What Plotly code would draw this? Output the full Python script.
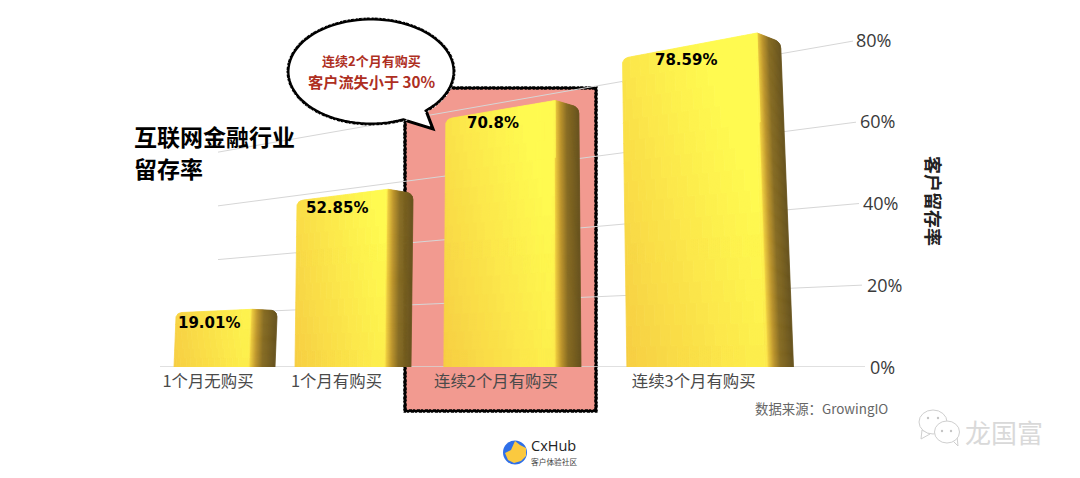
import math
import plotly.graph_objects as go

categories = ["1个月无购买", "1个月有购买", "连续2个月有购买", "连续3个月有购买"]
retention = [19.01, 52.85, 70.8, 78.59]
axis_ticks = [0, 20, 40, 60, 80]
axis_title = "客户留存率"
chart_title = ["互联网金融行业", "留存率"]
callout = ["连续2个月有购买", "客户流失小于 30%"]
source_note = "数据来源：GrowingIO"

W, H = 1080, 478
BASE_PX = 367
PX_PER_UNIT = 4.0875
CJK = "Noto Sans CJK SC"


def yp(p):
    return 1 - p / H


def persp(x):
    return (2.69 + 0.002186 * (x - 220)) / PX_PER_UNIT


def lean(xb):
    return 2 - 0.05 * max(0, xb - 500)


def geom(i):
    left = 174 + 121 * (1.23 ** i - 1) / 0.23
    right = 275 + 136 * (1.25 ** i - 1) / 0.25
    return left, right - 25, right


def rounding(d, rx, ry):
    if d >= rx:
        return 0.0
    return ry * (1 - math.sqrt(max(0, 1 - (1 - d / rx) ** 2))) / PX_PER_UNIT


def top_front(xb, v, left, split):
    xt = xb + lean(xb)
    return v * 1.10 * persp(xt) - rounding(xb - left, 7, 4)


def top_side(xb, v, split, right):
    w = (xb - split) / (right - split)
    xt = xb + lean(xb)
    return v * (1.10 - 0.045 * w) * persp(xt) - rounding(right - xb, 6, 6)


def pt(xb, frac, top):
    return xb + lean(xb) * frac, frac * top


def mix(a, b, f):
    return tuple(a[k] + (b[k] - a[k]) * f for k in range(3))


def col(c):
    return "rgb(%d,%d,%d)" % tuple(round(q) for q in c)


ORANGE = (246, 203, 66)
YELLOW = (255, 250, 80)
SHADE_STOPS = [(0.0, (238, 205, 62)), (0.22, (190, 150, 45)), (0.5, (135, 108, 35)), (1.0, (104, 84, 30))]


def shade(s):
    for (a, ca), (b, cb) in zip(SHADE_STOPS, SHADE_STOPS[1:]):
        if s <= b:
            return mix(ca, cb, (s - a) / (b - a))
    return SHADE_STOPS[-1][1]


polys = {}


def add_cell(color, x0, x1, frac0, frac1, top0, top1):
    xs, ys = polys.setdefault(color, ([], []))
    for xb, fr, tp in [(x0, frac0, top0), (x1, frac0, top1), (x1, frac1, top1), (x0, frac1, top0), (x0, frac0, top0)]:
        x, y = pt(xb, fr, tp)
        xs.append(x)
        ys.append(y)
    xs.append(None)
    ys.append(None)


for i, v in enumerate(retention):
    left, split, right = geom(i)
    n = int((split - left) / 2)
    rows = max(6, int(v / 5))
    for c in range(n):
        x0 = left + (split - left) * c / n
        x1 = left + (split - left) * (c + 1) / n
        u = (c + 0.5) / n
        t0 = top_front(x0, v, left, split)
        t1 = top_front(x1, v, left, split)
        for r in range(rows):
            f0, f1 = r / rows, (r + 1) / rows
            height = (f0 + f1) / 2 * v / 80
            f = 0.05 + 0.68 * min(1, u / 0.92) ** 0.9 + 0.5 * height
            if u > 0.97:
                f -= 0.3 * (u - 0.97) / 0.03
            f = max(0, min(1, f))
            f = round(f * 18) / 18
            add_cell(col(mix(ORANGE, YELLOW, f)), x0, x1, f0, f1, t0, t1)
    m = int(right - split)
    for c in range(m):
        x0 = split + (right - split) * c / m
        x1 = split + (right - split) * (c + 1) / m
        s = round((c + 0.5) / m * 24) / 24
        add_cell(col(shade(s)), x0, x1, 0, 1, top_side(x0, v, split, right), top_side(x1, v, split, right))

fig = go.Figure()

# perspective gridlines
for tick in axis_ticks:
    end = 865 - tick * 0.15
    start = 218 if tick else 160
    fig.add_trace(go.Scatter(
        x=[start, end], y=[tick * persp(start), tick * persp(end)],
        mode="lines", line=dict(color="#d6d6d6", width=1.5 if tick == 0 else 1),
        hoverinfo="skip", showlegend=False))
    fig.add_annotation(x=end + 3 - tick * 0.025, y=tick * persp(end), xref="x", yref="y", text=f"{tick}%",
                       showarrow=False, xanchor="left", yanchor="middle", yshift=tick * 0.02,
                       font=dict(family="Open Sans", size=18, color="#3a3a3a"))

for color, (xs, ys) in polys.items():
    fig.add_trace(go.Scatter(x=xs, y=ys, mode="lines", fill="toself", fillcolor=color,
                             line=dict(color=color, width=0.8), hoverinfo="skip", showlegend=False))

# value labels
for i, v in enumerate(retention):
    left, split, right = geom(i)
    cx = (left + split) / 2 - 3 - i ** 2
    fig.add_annotation(x=cx, y=top_front(cx, v, left, split), xref="x", yref="y", text=f"{v:g}%",
                       showarrow=False, yshift=-12, yanchor="middle",
                       font=dict(family="DejaVu Sans", size=15, color="#000000", weight="bold"))

tickvals = [(geom(i)[0] + geom(i)[1]) / 2 - 4 for i in range(len(categories))]

shapes = []


def path_from(points, close=True):
    d = "M" + " L".join(f"{x:.1f},{yp(y):.5f}" for x, y in points)
    return d + (" Z" if close else "")


def chalk(points, color, layer):
    # broken speckle that roughens the edge of a hand-drawn outline
    shapes.append(dict(type="path", xref="x", yref="paper", path=path_from(points), layer=layer,
                       fillcolor="rgba(0,0,0,0)", line=dict(color=color, width=1, dash="1px,3px,2px,2px")))


# highlight frame
frame = [(405, 88), (596, 88), (596, 411), (405, 411)]
shapes.append(dict(type="path", xref="x", yref="paper", path=path_from(frame), layer="below",
                   fillcolor="#f29a90", line=dict(color="#000000", width=3.6)))
outer = [(403.2, 86.2), (597.8, 86.2), (597.8, 412.8), (403.2, 412.8)]
inner = [(406.8, 89.8), (594.2, 89.8), (594.2, 409.2), (406.8, 409.2)]
chalk(outer, "#ffffff", "below")
chalk(inner, "#f29a90", "below")

# speech bubble
cx, cy, a, b = 371, 71.5, 83, 52.5
ang_start = math.atan2((110 - cy) / b, (425 - cx) / a)
ang_end = math.atan2((119 - cy) / b, (403 - cx) / a)
bubble = []
rim = []
N = 90
for k in range(N + 1):
    th = ang_end + (ang_start + 2 * math.pi - ang_end) * k / N
    bubble.append((cx + a * math.cos(th), cy + b * math.sin(th)))
    rim.append((cx + (a + 1.4) * math.cos(th), cy + (b + 1.4) * math.sin(th)))
bubble.append((433, 129))
shapes.append(dict(type="path", xref="x", yref="paper", path=path_from(bubble), layer="above",
                   fillcolor="#ffffff", line=dict(color="#000000", width=3)))
chalk(rim, "#ffffff", "above")


def ellipse(cx, cy, rx, ry, fill, line, width=1):
    shapes.append(dict(type="circle", xref="x", yref="paper", x0=cx - rx, x1=cx + rx,
                       y0=yp(cy + ry), y1=yp(cy - ry), fillcolor=fill, layer="above",
                       line=dict(color=line, width=width)))


# CxHub logo
ellipse(515, 452.5, 12, 12, "#2f6fe8", "#2f6fe8", 0)
blob = [(515, 441), (520, 445), (526, 448), (526, 456), (521, 461), (514, 463), (508, 460), (505, 453), (511, 450)]
shapes.append(dict(type="path", xref="x", yref="paper", path=path_from(blob), layer="above",
                   fillcolor="#fbc93f", line=dict(color="#fbc93f", width=0)))

# WeChat watermark icon
ICON = "#cfcfcf"
tail1 = [(922, 430), (921, 439), (930, 434)]
shapes.append(dict(type="path", xref="x", yref="paper", path=path_from(tail1), layer="above",
                   fillcolor="#ffffff", line=dict(color=ICON, width=1)))
ellipse(933, 422, 14, 12, "#ffffff", ICON)
tail2 = [(952, 440), (958, 446), (957, 436)]
shapes.append(dict(type="path", xref="x", yref="paper", path=path_from(tail2), layer="above",
                   fillcolor="#ffffff", line=dict(color=ICON, width=1)))
ellipse(947, 432, 12.5, 11, "#ffffff", ICON)
for ex, ey in [(928, 418), (938, 418), (942, 431), (951, 431)]:
    ellipse(ex, ey, 1.2, 1.2, "#c4c4c4", "#c4c4c4", 0)


def note(x, py, text, size, color="#000", anchor="left", weight=None, family=CJK, angle=0):
    fig.add_annotation(x=x, y=yp(py), xref="x", yref="paper", text=text, showarrow=False,
                       xanchor=anchor, yanchor="middle", textangle=angle,
                       font=dict(family=family, size=size, color=color, weight=weight))


note(132, 136, chart_title[0], 23, "#000000", weight="bold")
note(132, 168, chart_title[1], 23, "#000000", weight="bold")
note(371, 61, callout[0], 13, "#ae2f1f", "center", "bold")
note(371, 81, callout[1], 15.2, "#ae2f1f", "center", "bold")
note(934, 201, axis_title, 18, "#222222", "center", "bold", angle=90)
note(890, 408, source_note, 13.4, "#666666", "right")
note(529, 445.5, "CxHub", 14.5, "#222222", family="Open Sans")
note(529, 461, "客户体验社区", 7.7, "#444444")
note(1045, 431, "龙国富", 26, "#d9d9d9", "right")

fig.update_layout(
    width=W, height=H, margin=dict(l=0, r=0, t=0, b=0), paper_bgcolor="#ffffff", plot_bgcolor="rgba(0,0,0,0)",
    showlegend=False, shapes=shapes,
    xaxis=dict(range=[0, W], domain=[0, 1], showgrid=False, zeroline=False, showline=False,
               tickmode="array", tickvals=tickvals, ticktext=categories, ticks="", ticklabelstandoff=3,
               tickfont=dict(family=CJK, size=16.4, color="#4a4a4a")),
    yaxis=dict(range=[0, BASE_PX / PX_PER_UNIT], domain=[1 - BASE_PX / H, 1], showgrid=False, zeroline=False,
               showline=False, showticklabels=False, ticks="", tickmode="array", tickvals=axis_ticks),
)
fig.write_html("out.html", post_script="document.body.style.margin='0';", config={"displayModeBar": False})
